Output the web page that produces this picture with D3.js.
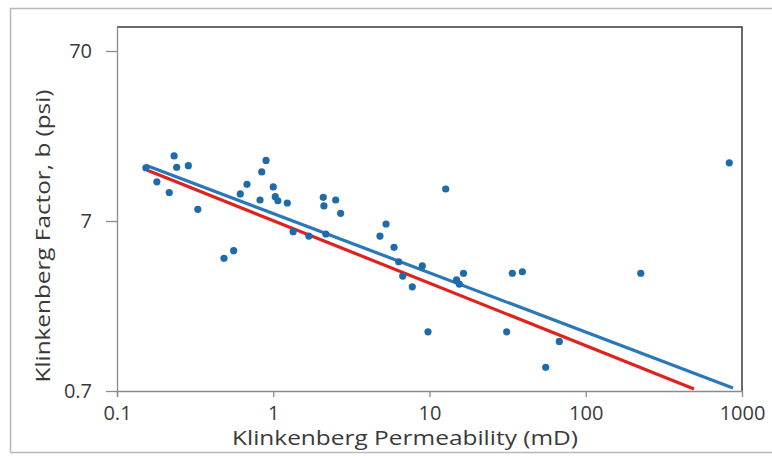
<!DOCTYPE html>
<html><head><meta charset="utf-8">
<script src="https://cdn.jsdelivr.net/npm/d3@7"></script>
<style>body{margin:0;background:#fff}svg{display:block}</style>
</head><body>
<svg id="c" width="772" height="457"></svg>
<script>
// Data (Klinkenberg permeability mD, b factor psi)
const permeability = [0.153,0.180,0.232,0.241,0.286,0.216,0.329,0.484,0.558,0.615,0.679,0.823,0.844,0.899,1.00,1.03,1.07,1.23,1.34,1.69,2.09,2.11,2.17,2.51,2.70,4.82,5.27,5.93,6.35,6.74,7.76,8.99,9.78,12.7,14.9,15.5,16.5,31.2,33.9,39.3,55.4,67.7,225,829];
const bFactor      = [14.4,11.9,16.9,14.5,14.8,10.3,8.20,4.22,4.68,10.1,11.5,9.30,13.6,15.9,11.1,9.73,9.21,8.93,6.06,5.71,9.65,8.58,5.87,9.30,7.77,5.71,6.72,4.90,4.03,3.32,2.87,3.81,1.56,10.8,3.15,2.98,3.45,1.56,3.45,3.52,0.965,1.37,3.45,15.4];
const fitBlueX = [0.153, 875];
const fitBlueY = [14.9, 0.73];
const fitRedX  = [0.155, 493];
const fitRedY  = [13.97, 0.719];
const xTicks = [0.1, 1, 10, 100, 1000];
const xTickLabels = ["0.1", "1", "10", "100", "1000"];
const yTicks = [0.7, 7, 70];
const yTickLabels = ["0.7", "7", "70"];
const xTitle = "Klinkenberg Permeability (mD)";
const yTitle = "Klinkenberg Factor, b (psi)";

const svg = d3.select("#c");
const L = 117, R = 742, T = 27, B = 391;
const x = d3.scaleLog().domain([0.1, 1000]).range([L, R]);
const y = d3.scaleLog().domain([0.7, 70]).range([B, 51]);
const font = "'Open Sans', 'Noto Sans', sans-serif";
const txt = "#3a3a3a";

// outer border
svg.append("rect").attr("x", 10.5).attr("y", 8.5).attr("width", 800).attr("height", 444)
  .attr("fill", "none").attr("stroke", "#b8b8b8").attr("stroke-width", 1.5);

// frame top/right
svg.append("path").attr("d", `M${L},${T}H${R}V${B}`).attr("fill", "none")
  .attr("stroke", "#3a3a3a").attr("stroke-width", 1.5);

// axes
const xAxis = d3.axisBottom(x).tickValues(xTicks).tickSize(6).tickSizeOuter(0)
  .tickFormat((d, i) => xTickLabels[i]);
const gx = svg.append("g").attr("transform", `translate(0,${B})`).call(xAxis);
gx.select(".domain").attr("stroke", "#8a8a8a").attr("stroke-width", 1.3);
gx.selectAll(".tick line").attr("stroke", "#8a8a8a").attr("stroke-width", 1.3);
gx.selectAll(".tick text").attr("font-family", font).attr("font-size", 20)
  .attr("fill", txt).attr("y", 15).attr("dy", "0.71em");

const yAxis = d3.axisLeft(y).tickValues(yTicks).tickSize(11).tickSizeOuter(0)
  .tickFormat((d, i) => yTickLabels[i]);
const gy = svg.append("g").attr("transform", `translate(${L},0)`).call(yAxis);
gy.select(".domain").attr("stroke", "#8a8a8a").attr("stroke-width", 1.3)
  .attr("d", `M0.5,${T}V${B + 6}`);
gy.selectAll(".tick line").attr("stroke", "#8a8a8a").attr("stroke-width", 1.3);
gy.selectAll(".tick text").attr("font-family", font).attr("font-size", 20)
  .attr("fill", txt).attr("x", -25);

// fit lines
const line = d3.line().x(d => x(d[0])).y(d => y(d[1]));
svg.append("path").datum(fitRedX.map((v, i) => [v, fitRedY[i]]))
  .attr("d", line).attr("stroke", "#e0221c").attr("stroke-width", 3.2).attr("fill", "none");
svg.append("path").datum(fitBlueX.map((v, i) => [v, fitBlueY[i]]))
  .attr("d", line).attr("stroke", "#2a78b8").attr("stroke-width", 3.2).attr("fill", "none");

// points
svg.append("g").selectAll("circle").data(permeability).join("circle")
  .attr("cx", d => x(d)).attr("cy", (d, i) => y(bFactor[i])).attr("r", 3.6)
  .attr("fill", "#1f6aa8");

// titles
svg.append("text").attr("x", 405).attr("y", 445).attr("text-anchor", "middle")
  .attr("font-family", font).attr("font-size", 20).attr("fill", txt)
  .attr("textLength", 346).attr("lengthAdjust", "spacingAndGlyphs").text(xTitle);
svg.append("text").attr("transform", "translate(50,236) rotate(-90)").attr("text-anchor", "middle")
  .attr("font-family", font).attr("font-size", 20).attr("fill", txt)
  .attr("textLength", 293).attr("lengthAdjust", "spacingAndGlyphs").text(yTitle);
</script>
</body></html>
